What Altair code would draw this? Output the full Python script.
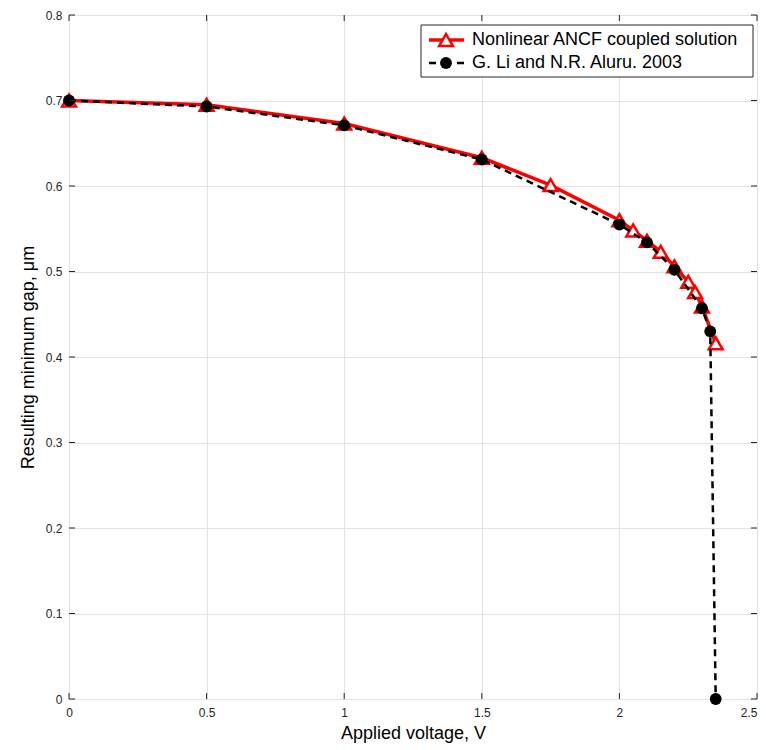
import altair as alt
import pandas as pd

# Nonlinear ANCF coupled solution
v_ancf = [0.0, 0.5, 1.0, 1.5, 1.75, 2.0, 2.05, 2.1, 2.15, 2.2, 2.25, 2.275, 2.3, 2.35]
g_ancf = [0.700, 0.695, 0.673, 0.633, 0.601, 0.560, 0.548, 0.536, 0.523, 0.506, 0.488, 0.476, 0.459, 0.416]

# G. Li and N.R. Aluru 2003
v_li = [0.0, 0.5, 1.0, 1.5, 2.0, 2.1, 2.2, 2.3, 2.33, 2.35]
g_li = [0.700, 0.693, 0.671, 0.631, 0.555, 0.534, 0.502, 0.457, 0.430, 0.0]

x_ticks = [0, 0.5, 1, 1.5, 2, 2.5]
y_ticks = [0, 0.1, 0.2, 0.3, 0.4, 0.5, 0.6, 0.7, 0.8]

label_a = "Nonlinear ANCF coupled solution"
label_l = "G. Li and N.R. Aluru. 2003"

W, H = 688, 684
FONT = "Liberation Sans"
FRAME = "#262626"

df_a = pd.DataFrame({"v": v_ancf, "g": g_ancf})
df_l = pd.DataFrame({"v": v_li, "g": g_li})
df_xt = pd.DataFrame({"v": x_ticks})
df_yt = pd.DataFrame({"g": y_ticks})
one = pd.DataFrame({"a": [0]})

xs = alt.Scale(domain=[0, 2.5], nice=False, zero=False)
ys = alt.Scale(domain=[0, 0.8], nice=False, zero=False)

x_axis = alt.Axis(values=x_ticks, grid=True, gridColor="#e3e3e3", domain=False, ticks=False,
                  labelFont=FONT, labelFontSize=12, labelColor="#262626", labelPadding=8,
                  labelFlush=False, labelOverlap=False,
                  labelAlign={"condition": {"test": "datum.value >= 2.5", "value": "right"},
                              "value": "center"},
                  labelExpr="datum.value == 0 ? '0' : format(datum.value, '.1~f')",
                  title="Applied voltage, V", titleFont=FONT, titleFontSize=18,
                  titleFontWeight="normal", titleColor="#000000", titlePadding=6)
y_axis = alt.Axis(values=y_ticks, grid=True, gridColor="#e3e3e3", domain=False, ticks=False,
                  labelFont=FONT, labelFontSize=12, labelColor="#262626", labelPadding=7,
                  labelFlush=False, labelOverlap=False,
                  labelExpr="datum.value == 0 ? '0' : format(datum.value, '.1f')",
                  title="Resulting minimum gap, μm", titleFont=FONT, titleFontSize=18,
                  titleFontWeight="normal", titleColor="#000000", titlePadding=8)

X = alt.X("v:Q", scale=xs, axis=x_axis)
Y = alt.Y("g:Q", scale=ys, axis=y_axis)

red_line = alt.Chart(df_a).mark_line(color="#ff0000", strokeWidth=3.5).encode(x=X, y=Y)
red_pts = alt.Chart(df_a).mark_point(shape="triangle-up", size=190, filled=False,
                                     fill="#ffffff", fillOpacity=1, color="#ff0000",
                                     strokeWidth=2.5, opacity=1).encode(x=X, y=Y)
blk_line = alt.Chart(df_l).mark_line(color="#000000", strokeWidth=2.5,
                                     strokeDash=[7, 5]).encode(x=X, y=Y)
blk_pts = alt.Chart(df_l).mark_point(shape="circle", size=140, filled=True, color="#000000",
                                     opacity=1).encode(x=X, y=Y)

# inward ticks on all four sides (MATLAB style)
tick_col = FRAME
xt_bot = alt.Chart(df_xt).mark_rule(color=tick_col, strokeWidth=1).encode(
    x=X, y=alt.value(H), y2=alt.value(H - 6))
xt_top = alt.Chart(df_xt).mark_rule(color=tick_col, strokeWidth=1).encode(
    x=X, y=alt.value(0), y2=alt.value(6))
yt_left = alt.Chart(df_yt).mark_rule(color=tick_col, strokeWidth=1).encode(
    y=Y, x=alt.value(0), x2=alt.value(6))
yt_right = alt.Chart(df_yt).mark_rule(color=tick_col, strokeWidth=1).encode(
    y=Y, x=alt.value(W), x2=alt.value(W - 6))

# legend
LX0, LX1, LY0, LY1 = 352, 684, 10, 62
R1, R2 = 25, 48
SX0, SX1, SM, TX = 360, 395, 377, 403
leg_box = alt.Chart(one).mark_rect(fill="#ffffff", stroke=FRAME, strokeWidth=1).encode(
    x=alt.value(LX0), x2=alt.value(LX1), y=alt.value(LY0), y2=alt.value(LY1))
leg_l1 = alt.Chart(one).mark_rule(color="#ff0000", strokeWidth=3.5).encode(
    x=alt.value(SX0), x2=alt.value(SX1), y=alt.value(R1))
leg_m1 = alt.Chart(one).mark_point(shape="triangle-up", size=190, filled=False, fill="#ffffff",
                                   fillOpacity=1, color="#ff0000", strokeWidth=2.5, opacity=1).encode(
    x=alt.value(SM), y=alt.value(R1))
leg_l2 = alt.Chart(one).mark_rule(color="#000000", strokeWidth=2.5, strokeDash=[7, 21]).encode(
    x=alt.value(SX0), x2=alt.value(SX1), y=alt.value(R2))
leg_m2 = alt.Chart(one).mark_point(shape="circle", size=140, filled=True, color="#000000",
                                   opacity=1).encode(x=alt.value(SM), y=alt.value(R2))
leg_t1 = alt.Chart(one).mark_text(text=label_a, align="left", baseline="middle", font=FONT,
                                  fontSize=18, color="#000000").encode(x=alt.value(TX), y=alt.value(R1))
leg_t2 = alt.Chart(one).mark_text(text=label_l, align="left", baseline="middle", font=FONT,
                                  fontSize=18, color="#000000").encode(x=alt.value(TX), y=alt.value(R2))

chart = alt.layer(
    red_line, red_pts, blk_line, blk_pts,
    xt_bot, xt_top, yt_left, yt_right,
    leg_box, leg_l1, leg_m1, leg_l2, leg_m2, leg_t1, leg_t2,
).properties(
    width=W, height=H,
    autosize=alt.AutoSizeParams(type="none"),
    padding={"left": 61, "top": 7, "right": 1, "bottom": 48},
).configure_view(stroke=FRAME, strokeWidth=1).configure(background="#ffffff")

chart.save("out.html", embed_options={"renderer": "svg", "actions": False})
